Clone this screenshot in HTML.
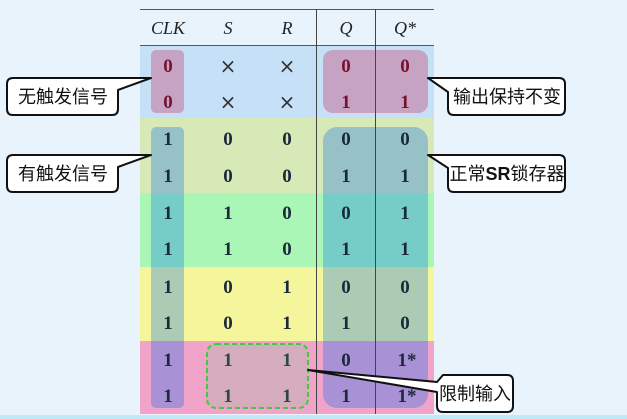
<!DOCTYPE html>
<html><head><meta charset="utf-8"><style>
html,body{margin:0;padding:0;background:#e9f3fc;}
svg{display:block}
.n{font-family:"Liberation Serif",serif;font-weight:bold;font-size:19px;text-anchor:middle;fill:#1a2a3a}
.x{font-family:"DejaVu Sans",sans-serif;font-size:20px;text-anchor:middle;fill:#333}
.h{font-family:"Liberation Serif",serif;font-style:italic;font-size:18px;text-anchor:middle;fill:#222}
.c{font-family:"Liberation Sans","Noto Sans CJK SC",sans-serif;font-size:18px;text-anchor:middle;fill:#111}
</style></head><body>
<svg width="627" height="419" viewBox="0 0 627 419">
<rect width="627" height="419" fill="#e9f3fc"/>
<rect x="0" y="415" width="627" height="4" fill="#bfe9f5"/>
<rect x="140" y="45" width="294" height="73" fill="#c5e0f7"/>
<rect x="140" y="118" width="294" height="75" fill="#d7e9b7"/>
<rect x="140" y="193" width="294" height="74" fill="#a9f6b6"/>
<rect x="140" y="267" width="294" height="74" fill="#f5f59b"/>
<rect x="140" y="341" width="294" height="73" fill="#f1a3c9"/>
<rect x="151" y="50" width="33" height="63" rx="5" fill="rgba(200,60,110,0.38)"/>
<rect x="323" y="50" width="105" height="63" rx="10" fill="rgba(200,60,110,0.38)"/>
<rect x="151" y="127" width="33" height="281" rx="5" fill="rgba(0,105,240,0.3)"/>
<rect x="323" y="127" width="105" height="281" rx="14" fill="rgba(0,105,240,0.3)"/>
<rect x="207" y="344" width="101" height="64" rx="9" fill="rgba(150,200,160,0.3)" stroke="#3ecb3e" stroke-width="2" stroke-dasharray="5,3"/>
<line x1="140" y1="9.5" x2="434" y2="9.5" stroke="#555" stroke-width="1"/>
<line x1="140" y1="45.5" x2="434" y2="45.5" stroke="#555" stroke-width="1"/>
<line x1="316.5" y1="9" x2="316.5" y2="414" stroke="#444" stroke-width="1"/>
<line x1="375.5" y1="9" x2="375.5" y2="414" stroke="#444" stroke-width="1"/>
<text class="h" x="168" y="34">CLK</text>
<text class="h" x="228" y="34">S</text>
<text class="h" x="287" y="34">R</text>
<text class="h" x="346" y="34">Q</text>
<text class="h" x="405" y="34">Q*</text>
<g class="x">
<text x="228" y="73">×</text><text x="287" y="73">×</text>
<text x="228" y="109">×</text><text x="287" y="109">×</text>
</g>
<g class="n">
<text x="168" y="72" fill="#7a1030">0</text><text x="346" y="72" fill="#7a1030">0</text><text x="405" y="72" fill="#7a1030">0</text>
<text x="168" y="108" fill="#7a1030">0</text><text x="346" y="108" fill="#7a1030">1</text><text x="405" y="108" fill="#7a1030">1</text>
<text x="168" y="145">1</text><text x="228" y="145">0</text><text x="287" y="145">0</text><text x="346" y="145">0</text><text x="405" y="145">0</text>
<text x="168" y="182">1</text><text x="228" y="182">0</text><text x="287" y="182">0</text><text x="346" y="182">1</text><text x="405" y="182">1</text>
<text x="168" y="219">1</text><text x="228" y="219">1</text><text x="287" y="219">0</text><text x="346" y="219">0</text><text x="405" y="219">1</text>
<text x="168" y="255">1</text><text x="228" y="255">1</text><text x="287" y="255">0</text><text x="346" y="255">1</text><text x="405" y="255">1</text>
<text x="168" y="293">1</text><text x="228" y="293">0</text><text x="287" y="293">1</text><text x="346" y="293">0</text><text x="405" y="293">0</text>
<text x="168" y="329">1</text><text x="228" y="329">0</text><text x="287" y="329">1</text><text x="346" y="329">1</text><text x="405" y="329">0</text>
<text x="168" y="366">1</text><text x="228" y="366" fill="#2a4a4a">1</text><text x="287" y="366" fill="#2a4a4a">1</text><text x="346" y="366">0</text><text x="407" y="366">1*</text>
<text x="168" y="402">1</text><text x="228" y="402" fill="#2a4a4a">1</text><text x="287" y="402" fill="#2a4a4a">1</text><text x="346" y="402">1</text><text x="407" y="402">1*</text>
</g>
<g stroke="#111" stroke-width="2" fill="#fff" stroke-linejoin="round">
<path d="M13 78 H112 L151 78 L118 90 V109 Q118 115 112 115 H13 Q7 115 7 109 V84 Q7 78 13 78 Z"/>
<path d="M13 155 H112 L151 155 L118 167 V186 Q118 192 112 192 H13 Q7 192 7 186 V161 Q7 155 13 155 Z"/>
<path d="M454 78 H559 Q565 78 565 84 V109 Q565 115 559 115 H454 Q448 115 448 109 V92 L428 78 Z"/>
<path d="M454 155 H559 Q565 155 565 161 V186 Q565 192 559 192 H454 Q448 192 448 186 V168 L428 155 Z"/>
<path d="M443 375 H507 Q513 375 513 381 V406 Q513 412 507 412 H443 Q437 412 437 406 V392 L308 370 L437 382 Z"/>
</g>
<text class="c" x="63" y="103">无触发信号</text>
<text class="c" x="63" y="180">有触发信号</text>
<text class="c" x="507" y="103">输出保持不变</text>
<text class="c" x="507" y="180">正常<tspan style="font-weight:bold">SR</tspan>锁存器</text>
<text class="c" x="475" y="400">限制输入</text>
</svg>
</body></html>
